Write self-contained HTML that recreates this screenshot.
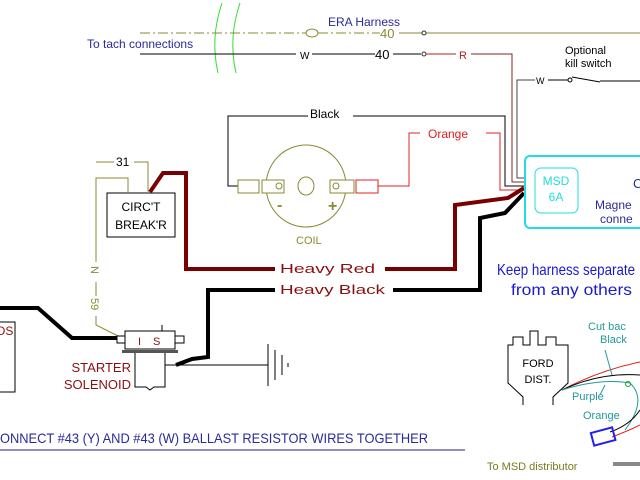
<!DOCTYPE html>
<html><head><meta charset="utf-8"><style>
html,body{margin:0;padding:0;background:#fff;}
svg{display:block;}
text{font-family:"Liberation Sans",sans-serif;}
</style></head><body>
<svg width="640" height="480" viewBox="0 0 640 480" xmlns="http://www.w3.org/2000/svg">
<rect width="640" height="480" fill="#fff"/>
<path d="M222,3 Q210,38 218,73 M240,3 Q228,38 236,73" stroke="#33dd33" stroke-width="1" fill="none"/>
<text x="87" y="48" font-size="12" fill="#2a2a9a">To tach connections</text>
<text x="328" y="26" font-size="12" fill="#2a2a9a">ERA Harness</text>
<line x1="140" y1="33" x2="306" y2="33" stroke="#8a8a30" stroke-dasharray="10,3,2,3"/>
<ellipse cx="312" cy="33" rx="6" ry="4" fill="#fff" stroke="#8a8a30"/>
<line x1="318" y1="33" x2="380" y2="33" stroke="#8a8a30" stroke-dasharray="10,3,2,3"/>
<text x="380" y="38" font-size="13" fill="#8a8a30">40</text>
<line x1="399" y1="33" x2="640" y2="33" stroke="#8a8a30"/>
<circle cx="424" cy="33" r="2" fill="#fff" stroke="#333"/>
<line x1="140" y1="54" x2="296" y2="54" stroke="#000"/>
<text x="300" y="59" font-size="10" fill="#000">W</text>
<line x1="312" y1="54" x2="375" y2="54" stroke="#000"/>
<text x="375" y="59" font-size="13" fill="#000">40</text>
<line x1="393" y1="54" x2="421" y2="54" stroke="#000"/>
<circle cx="424" cy="54" r="2" fill="#fff" stroke="#333"/>
<line x1="426" y1="54" x2="456" y2="54" stroke="#b02020"/>
<text x="459" y="59" font-size="11" fill="#b02020">R</text>
<polyline points="471,54 512,54 512,182 524,182" fill="none" stroke="#8a2020"/>
<text x="565" y="54" font-size="11" fill="#000">Optional</text>
<text x="565" y="67" font-size="11" fill="#000">kill switch</text>
<polyline points="524,178 517,178 517,80 535,80" fill="none" stroke="#444"/>
<text x="536" y="84" font-size="9" fill="#000">W</text>
<line x1="548" y1="80" x2="568" y2="80" stroke="#000"/>
<circle cx="570" cy="80" r="2" fill="#fff" stroke="#000"/>
<line x1="572" y1="77" x2="600" y2="82" stroke="#000"/>
<line x1="600" y1="81" x2="640" y2="81" stroke="#000"/>
<polyline points="238,186 228,186 228,116 308,116" fill="none" stroke="#000"/>
<text x="310" y="118" font-size="12" fill="#000">Black</text>
<polyline points="353,116 505,116 505,186 524,186" fill="none" stroke="#000"/>
<polyline points="378,186 409,186 409,133 420,133" fill="none" stroke="#e02020"/>
<text x="428" y="138" font-size="12" fill="#e02020">Orange</text>
<polyline points="486,133 500,133 500,190 524,190" fill="none" stroke="#e02020"/>
<ellipse cx="306" cy="186" rx="40" ry="41" fill="none" stroke="#8a8a30"/>
<ellipse cx="306" cy="186" rx="8" ry="9" fill="none" stroke="#8a8a30"/>
<rect x="238" y="180" width="21" height="13" fill="#fff" stroke="#8a8a30"/>
<rect x="262" y="180" width="22" height="13" fill="#fff" stroke="#8a8a30"/>
<circle cx="279" cy="186" r="3" fill="none" stroke="#8a8a30"/>
<rect x="330" y="180" width="24" height="13" fill="#fff" stroke="#8a8a30"/>
<circle cx="336" cy="186" r="3" fill="none" stroke="#8a8a30"/>
<rect x="356" y="180" width="22" height="13" fill="#fff" stroke="#e02020"/>
<text x="277" y="210" font-size="16" font-weight="bold" fill="#8a8a30">-</text>
<text x="328" y="211" font-size="16" font-weight="bold" fill="#8a8a30">+</text>
<text x="296" y="244" font-size="11" fill="#8a8a30">COIL</text>
<line x1="96" y1="162" x2="114" y2="162" stroke="#8a8a30"/>
<text x="116" y="166" font-size="12" fill="#000">31</text>
<polyline points="134,162 148,162 148,192" fill="none" stroke="#8a8a30"/>
<polyline points="128,192 128,178 96,178 96,262" fill="none" stroke="#8a8a30"/>
<text transform="translate(91,266) rotate(90)" font-size="11" fill="#8a8a30">N</text>
<line x1="96" y1="282" x2="96" y2="296" stroke="#8a8a30"/>
<text transform="translate(91,298) rotate(90)" font-size="11" fill="#8a8a30">59</text>
<polyline points="96,316 96,325 120,337" fill="none" stroke="#8a8a30"/>
<rect x="107" y="193" width="68" height="44" fill="#fff" stroke="#000"/>
<text x="141" y="211" font-size="12" fill="#000" text-anchor="middle">CIRC'T</text>
<text x="141" y="229" font-size="12" fill="#000" text-anchor="middle">BREAK'R</text>
<polyline points="150,192 163,173 186,173 186,269 275,269" fill="none" stroke="#7a0000" stroke-width="4"/>
<text x="280" y="273" font-size="13" fill="#8a1010" textLength="95" lengthAdjust="spacingAndGlyphs">Heavy Red</text>
<polyline points="385,269 455,269 455,205 508,198 524,188" fill="none" stroke="#7a0000" stroke-width="4"/>
<polyline points="176,365 192,359 208,357 208,290 275,290" fill="none" stroke="#000" stroke-width="4"/>
<text x="280" y="294" font-size="13" fill="#8a1010" textLength="105" lengthAdjust="spacingAndGlyphs">Heavy Black</text>
<polyline points="393,290 480,290 480,218 505,213 524,193" fill="none" stroke="#000" stroke-width="4"/>
<rect x="525" y="156" width="125" height="72" rx="5" fill="none" stroke="#22dddd" stroke-width="2"/>
<rect x="535" y="168" width="43" height="45" rx="6" fill="none" stroke="#22dddd"/>
<text x="556" y="185" font-size="12" fill="#22dddd" text-anchor="middle">MSD</text>
<text x="556" y="201" font-size="12" fill="#22dddd" text-anchor="middle">6A</text>
<text x="633" y="188" font-size="13" fill="#2a2a9a">C</text>
<text x="595" y="209" font-size="12" fill="#2a2a9a">Magne</text>
<text x="600" y="223" font-size="12" fill="#2a2a9a">conne</text>
<text x="497" y="275" font-size="16" fill="#1a1acc" textLength="138" lengthAdjust="spacingAndGlyphs">Keep harness separate</text>
<text x="511" y="295" font-size="16" fill="#1a1acc" textLength="121" lengthAdjust="spacingAndGlyphs">from any others</text>
<polyline points="0,308 38,308 72,338 120,338" fill="none" stroke="#000" stroke-width="4"/>
<rect x="-2" y="322" width="17" height="70" fill="none" stroke="#000"/>
<text x="-4" y="335" font-size="12" fill="#8a1010">OS</text>
<rect x="117" y="336" width="9" height="7" fill="#fff" stroke="#000"/>
<rect x="175" y="336" width="9" height="7" fill="#fff" stroke="#000"/>
<rect x="125" y="331" width="50" height="18" fill="#fff" stroke="#000"/>
<line x1="162" y1="325" x2="162" y2="331" stroke="#000"/>
<text x="138" y="345" font-size="11" fill="#8a1010">I</text>
<text x="153" y="345" font-size="11" fill="#8a1010">S</text>
<rect x="122" y="350" width="56" height="3" fill="#555"/>
<path d="M135,353 L135,387 L146,387 L150,390 L154,387 L165,387 L165,353" fill="none" stroke="#000"/>
<text x="131" y="372" font-size="13" fill="#8a1010" text-anchor="end">STARTER</text>
<text x="131" y="389" font-size="13" fill="#8a1010" text-anchor="end">SOLENOID</text>
<line x1="165" y1="365" x2="268" y2="365" stroke="#000"/>
<line x1="268" y1="344" x2="268" y2="386" stroke="#000"/>
<line x1="275" y1="350" x2="275" y2="380" stroke="#000"/>
<line x1="282" y1="355" x2="282" y2="375" stroke="#000"/>
<line x1="288" y1="363" x2="288" y2="367" stroke="#000"/>
<text x="0" y="443" font-size="14" fill="#2a2a9a" textLength="428" lengthAdjust="spacingAndGlyphs">ONNECT #43 (Y) AND #43 (W) BALLAST RESISTOR WIRES TOGETHER</text>
<line x1="0" y1="450" x2="465" y2="450" stroke="#6a6aa0" stroke-width="1.5"/>
<path d="M523,405 L523,397 L508,383 L508,345 L513,345 L513,337 L523,337 L523,345 L530,345 L530,331 L538,331 L538,345 L546,345 L546,337 L556,337 L556,345 L568,345 L568,383 L553,397 L553,405" fill="none" stroke="#000"/>
<text x="538" y="367" font-size="11" fill="#000" text-anchor="middle">FORD</text>
<text x="538" y="383" font-size="11" fill="#000" text-anchor="middle">DIST.</text>
<path d="M562,390 Q600,370 640,362" fill="none" stroke="#e02020"/>
<path d="M562,390 Q600,372 640,375" fill="none" stroke="#000"/>
<path d="M562,390 Q600,378 630,383 Q648,400 625,430" fill="none" stroke="#229999"/>
<path d="M610,432 Q630,425 640,410" fill="none" stroke="#000"/>
<path d="M612,437 Q630,430 640,425" fill="none" stroke="#e02020"/>
<circle cx="628" cy="384" r="2.5" fill="none" stroke="#229922"/>
<line x1="605" y1="350" x2="612" y2="375" stroke="#229999"/>
<line x1="600" y1="395" x2="605" y2="385" stroke="#229999"/>
<rect x="592" y="430" width="22" height="13" fill="none" stroke="#2222ee" stroke-width="2" transform="rotate(-15 603 436)"/>
<text x="588" y="330" font-size="11" fill="#229999">Cut bac</text>
<text x="600" y="343" font-size="11" fill="#229999">Black</text>
<text x="572" y="400" font-size="11" fill="#229999">Purple</text>
<text x="583" y="419" font-size="11" fill="#229999">Orange</text>
<text x="487" y="470" font-size="11" fill="#7a7a20">To MSD distributor</text>
<rect x="613" y="462" width="27" height="4" fill="#888"/>
</svg>
</body></html>
